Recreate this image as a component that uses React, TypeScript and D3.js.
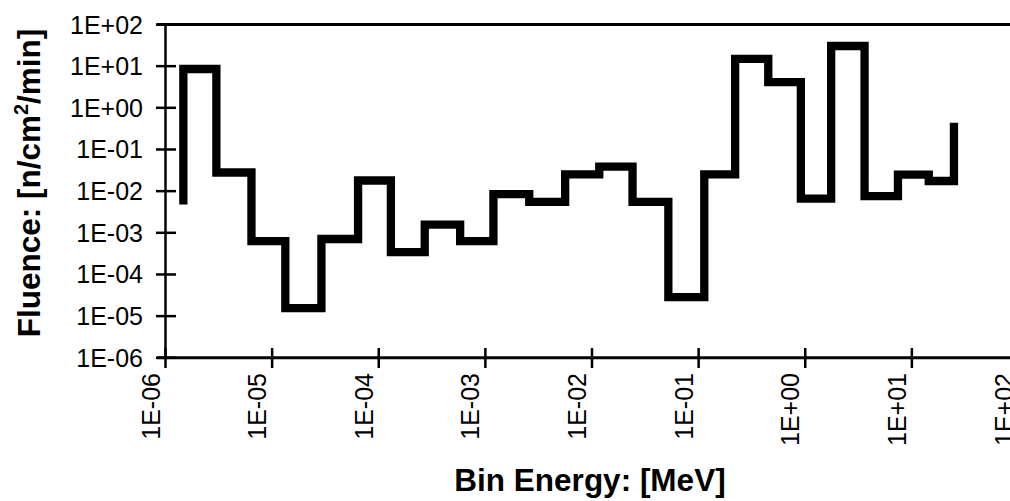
import React from "react";
import * as d3 from "d3";

// Bin edges (MeV)
const binEdges: number[] = [
  1.47e-6, 3.0e-6, 6.4e-6, 1.33e-5, 2.9e-5, 6.4e-5, 1.3e-4, 2.7e-4, 5.8e-4,
  1.19e-3, 2.58e-3, 5.6e-3, 1.17e-2, 2.4e-2, 5.2e-2, 0.113, 0.22, 0.45, 0.91,
  1.75, 3.6, 7.4, 14.4, 24.8,
];
// Fluence per bin (n/cm^2/min)
const fluence: number[] = [
  8.55, 0.028, 6.3e-4, 1.56e-5, 7.1e-4, 0.018, 3.45e-4, 1.58e-3, 6.3e-4,
  8.5e-3, 5.5e-3, 0.0253, 0.039, 5.5e-3, 2.87e-5, 0.0253, 14.9, 4.16, 6.6e-3,
  30.5, 7.6e-3, 0.025, 0.0175,
];
const startFluence = 4.8e-3;
const endFluence = 0.44;

const yTickValues: number[] = [1e-6, 1e-5, 1e-4, 1e-3, 1e-2, 1e-1, 1, 10, 100];
const yTickLabels: string[] = ["1E-06", "1E-05", "1E-04", "1E-03", "1E-02", "1E-01", "1E+00", "1E+01", "1E+02"];
const xTickValues: number[] = [1e-6, 1e-5, 1e-4, 1e-3, 1e-2, 1e-1, 1, 10, 100];
const xTickLabels: string[] = ["1E-06", "1E-05", "1E-04", "1E-03", "1E-02", "1E-01", "1E+00", "1E+01", "1E+02"];

const W = 1010;
const H = 501;
const FONT = "'Liberation Sans', Arial, Helvetica, sans-serif";

export default function App() {
  const x = d3.scaleLog().domain([1e-6, 1e2]).range([165.5, 1018.5]);
  const y = d3.scaleLog().domain([1e-6, 1e2]).range([357.8, 24.5]);

  const pts: [number, number][] = [];
  pts.push([x(binEdges[0]), y(startFluence)]);
  fluence.forEach((v, i) => {
    pts.push([x(binEdges[i]), y(v)]);
    pts.push([x(binEdges[i + 1]), y(v)]);
  });
  pts.push([x(binEdges[binEdges.length - 1]), y(endFluence)]);
  const line = d3.line<[number, number]>().x((d) => d[0]).y((d) => d[1]);

  const x0 = x(1e-6);
  const y0 = y(1e-6);
  const yTop = y(1e2);

  return (
    <svg
      width={W}
      height={H}
      style={{ position: "absolute", left: 0, top: 0, background: "#fff" }}
      fontFamily={FONT}
    >
      <rect x={0} y={0} width={W} height={H} fill="#fff" />
      {/* top frame line */}
      <line x1={157} x2={W} y1={yTop} y2={yTop} stroke="#000" strokeWidth={3} />
      {/* y axis */}
      <line x1={x0} x2={x0} y1={yTop} y2={y0} stroke="#000" strokeWidth={2.5} />
      {/* x axis */}
      <line x1={157} x2={W} y1={y0} y2={y0} stroke="#000" strokeWidth={3} />
      {yTickValues.map((v, i) => (
        <g key={"y" + i}>
          <line x1={156} x2={176} y1={y(v)} y2={y(v)} stroke="#000" strokeWidth={2.5} />
          <text
            x={143}
            y={y(v)}
            dy="0.36em"
            textAnchor="end"
            fontSize={25}
            fill="#000"
          >
            {yTickLabels[i]}
          </text>
        </g>
      ))}
      {xTickValues.map((v, i) => (
        <g key={"x" + i}>
          <line x1={x(v)} x2={x(v)} y1={348} y2={368} stroke="#000" strokeWidth={2.5} />
          <text
            transform={`translate(${x(v) - 6},373) rotate(-90)`}
            textAnchor="end"
            fontSize={25}
            fill="#000"
          >
            {xTickLabels[i]}
          </text>
        </g>
      ))}
      <path
        d={line(pts) || ""}
        fill="none"
        stroke="#000"
        strokeWidth={8.3}
        strokeLinejoin="miter"
        strokeLinecap="butt"
      />
      <text
        x={590}
        y={491}
        textAnchor="middle"
        fontSize={31.5}
        fontWeight="bold"
        fill="#000"
      >
        Bin Energy: [MeV]
      </text>
      <text
        transform={`translate(40,183) rotate(-90)`}
        textAnchor="middle"
        fontSize={31.5}
        fontWeight="bold"
        fill="#000"
      >
        <tspan>Fluence: [n/cm</tspan>
        <tspan fontSize={20} dy={-12}>2</tspan>
        <tspan dy={12}>/min]</tspan>
      </text>
    </svg>
  );
}
